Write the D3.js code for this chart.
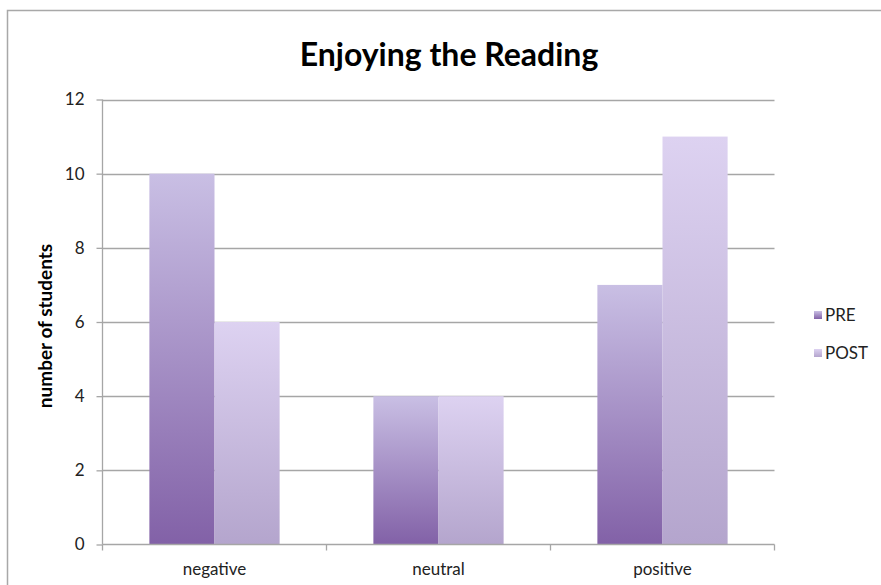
<!DOCTYPE html>
<html>
<head>
<meta charset="utf-8">
<script src="https://cdn.jsdelivr.net/npm/d3@7/dist/d3.min.js"></script>
<style>
  html, body { margin: 0; padding: 0; background: #fff; }
  svg { display: block; }
</style>
</head>
<body>
<svg id="chart" width="881" height="585"></svg>
<script>
const categories = ["negative", "neutral", "positive"];
const seriesNames = ["PRE", "POST"];
const preValues = [10, 4, 7];
const postValues = [6, 4, 11];
const yTicks = [0, 2, 4, 6, 8, 10, 12];
const title = "Enjoying the Reading";
const yLabel = "number of students";

(function () {
const font = "Lato, 'Open Sans', 'DejaVu Sans', sans-serif";
const svg = d3.select("#chart");

// outer frame
svg.append("path")
  .attr("d", "M7.5,600 V10.5 H900")
  .attr("fill", "none").attr("stroke", "#a8a8a8").attr("stroke-width", 1.5);

const pLeft = 102.5, pRight = 774.5, pTop = 99.5, pBottom = 544.5;

const x = d3.scaleBand().domain(categories).range([pLeft, pRight]).paddingInner(0).paddingOuter(0);
const x1 = d3.scaleBand().domain(seriesNames).range([0, x.bandwidth()]).paddingInner(0).paddingOuter(0.72);
const y = d3.scaleLinear().domain([0, 12]).range([pBottom, pTop]);

// gradients
const defs = svg.append("defs");
const grads = {
  PRE: ["#8261a7", "#c9bfe4"],
  POST: ["#b4a5cd", "#ddd2f1"]
};
Object.entries(grads).forEach(([k, [c0, c1]]) => {
  const g = defs.append("linearGradient").attr("id", "g" + k)
    .attr("x1", 0).attr("y1", 1).attr("x2", 0).attr("y2", 0);
  g.append("stop").attr("offset", "0%").attr("stop-color", c0);
  g.append("stop").attr("offset", "100%").attr("stop-color", c1);
});

// gridlines
svg.append("g").selectAll("line").data(yTicks.filter(t => t > 0)).join("line")
  .attr("x1", pLeft).attr("x2", pRight)
  .attr("y1", d => Math.round(y(d)) + 0.5).attr("y2", d => Math.round(y(d)) + 0.5)
  .attr("stroke", "#a6a6a6").attr("stroke-width", 1.3);

// bars
const data = categories.map((c, i) => ({ cat: c, vals: [
  { s: "PRE", v: preValues[i] }, { s: "POST", v: postValues[i] }
]}));
const groups = svg.append("g").selectAll("g").data(data).join("g")
  .attr("transform", d => `translate(${x(d.cat)},0)`);
groups.selectAll("rect").data(d => d.vals).join("rect")
  .attr("x", d => x1(d.s))
  .attr("width", x1.bandwidth())
  .attr("y", d => y(d.v))
  .attr("height", d => y(0) - y(d.v))
  .attr("fill", d => `url(#g${d.s})`);

// y axis
const yAxis = d3.axisLeft(y).tickValues(yTicks).tickSize(6).tickPadding(12);
const gy = svg.append("g").attr("transform", `translate(${pLeft},0)`).call(yAxis);
gy.select(".domain").attr("stroke", "#a6a6a6").attr("stroke-width", 1.3).attr("d", `M0,${pTop}V${pBottom}`);
gy.selectAll(".tick line").attr("stroke", "#a6a6a6").attr("stroke-width", 1.3);
gy.selectAll(".tick text").attr("font-family", font).attr("font-size", 17).attr("fill", "#222");

// x axis
const xAxis = d3.axisBottom(x).tickSize(0).tickPadding(18);
const gx = svg.append("g").attr("transform", `translate(0,${pBottom})`).call(xAxis);
gx.select(".domain").attr("stroke", "#a6a6a6").attr("stroke-width", 1.3).attr("d", `M${pLeft},0H${pRight}`);
gx.selectAll(".tick text").attr("font-family", font).attr("font-size", 17).attr("fill", "#222");
// category separators
svg.append("g").selectAll("line").data(categories.map(c => x(c)).concat([pRight])).join("line")
  .attr("x1", d => d).attr("x2", d => d).attr("y1", pBottom).attr("y2", pBottom + 6)
  .attr("stroke", "#a6a6a6").attr("stroke-width", 1.3);

// title
svg.append("text").attr("x", 449).attr("y", 66).attr("text-anchor", "middle")
  .attr("font-family", font).attr("font-weight", "bold").attr("font-size", 32).attr("fill", "#000")
  .text(title);

// y label
svg.append("text").attr("transform", `translate(52,${(pTop + pBottom) / 2 + 4}) rotate(-90)`)
  .attr("text-anchor", "middle").attr("font-family", font).attr("font-weight", "bold")
  .attr("font-size", 19).attr("fill", "#000").text(yLabel);

// legend
const legend = svg.append("g").selectAll("g").data(seriesNames).join("g")
  .attr("transform", (d, i) => `translate(814,${315 + i * 38})`);
legend.append("rect").attr("x", 0).attr("y", -4).attr("width", 8).attr("height", 8)
  .attr("fill", d => `url(#g${d})`);
legend.append("text").attr("x", 11).attr("y", 6)
  .attr("font-family", font).attr("font-size", 17).attr("fill", "#222").text(d => d);
})();
</script>
</body>
</html>
